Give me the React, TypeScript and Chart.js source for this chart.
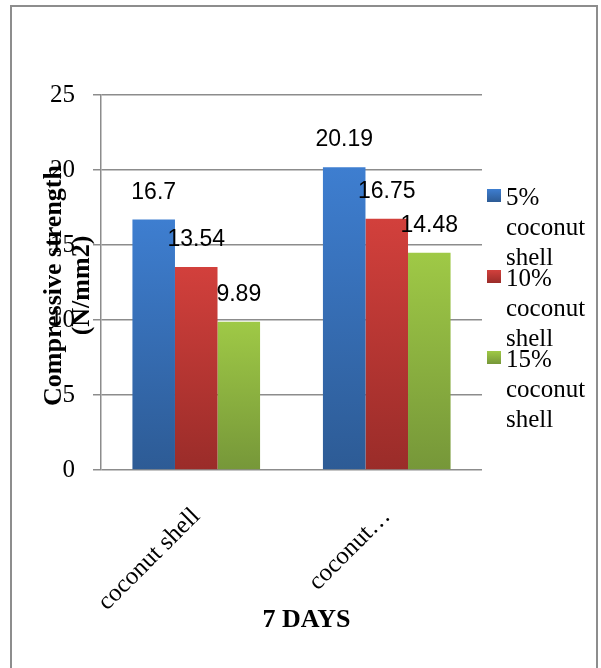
import React, { useEffect, useRef } from "react";
import { Chart, registerables } from "chart.js";

Chart.register(...registerables);

const categories = ["coconut shell", "coconut…"];
const seriesNames = ["5% coconut shell", "10% coconut shell", "15% coconut shell"];
const series5 = [16.7, 20.19];
const series10 = [13.54, 16.75];
const series15 = [9.89, 14.48];
const yTicks = [0, 5, 10, 15, 20, 25];
const yTitle = ["Compressive strength", "(N/mm2)"];
const xTitle = "7 DAYS";

const gradTop = ["#3e7ed0", "#d2403c", "#9fc946"];
const gradBottom = ["#2d5b95", "#9a2c29", "#769739"];

const SERIF = "'Liberation Serif', 'Times New Roman', serif";
const SANS = "'Liberation Sans', Arial, sans-serif";
const GRID = "#8c8c8c";

function barGradient(ctx: any, i: number) {
  const chart = ctx.chart;
  const y = chart.scales && chart.scales.y;
  if (!y || typeof ctx.raw !== "number") return gradTop[i];
  const top = y.getPixelForValue(ctx.raw);
  const bottom = y.getPixelForValue(0);
  if (!isFinite(top) || !isFinite(bottom) || top === bottom) return gradTop[i];
  const g = chart.ctx.createLinearGradient(0, top, 0, bottom);
  g.addColorStop(0, gradTop[i]);
  g.addColorStop(1, gradBottom[i]);
  return g;
}

const overlayPlugin = {
  id: "overlay",
  afterDatasetsDraw(chart: any) {
    const ctx = chart.ctx;
    ctx.save();
    ctx.fillStyle = "#000";
    ctx.font = `23px ${SANS}`;
    ctx.textAlign = "center";
    ctx.textBaseline = "middle";
    chart.data.datasets.forEach((ds: any, di: number) => {
      const meta = chart.getDatasetMeta(di);
      meta.data.forEach((bar: any, i: number) => {
        ctx.fillText(String(ds.data[i]), bar.x, bar.y - 27);
      });
    });
    ctx.restore();
  },
  afterDraw(chart: any) {
    const ctx = chart.ctx;
    const area = chart.chartArea;
    ctx.save();
    ctx.fillStyle = "#000";
    // y title
    ctx.font = `bold 26px ${SERIF}`;
    ctx.textAlign = "center";
    ctx.textBaseline = "middle";
    const cy = (area.top + area.bottom) / 2 + 3;
    yTitle.forEach((line, k) => {
      ctx.save();
      ctx.translate(area.left - 47 + k * 28, cy);
      ctx.rotate(-Math.PI / 2);
      ctx.fillText(line, 0, 0);
      ctx.restore();
    });
    // x title
    ctx.fillText(xTitle, (area.left + area.right) / 2 + 15, area.bottom + 150);
    // legend
    ctx.font = `25px ${SERIF}`;
    ctx.textAlign = "left";
    ctx.textBaseline = "alphabetic";
    chart.data.datasets.forEach((ds: any, di: number) => {
      const base = area.top + 110 + di * 81;
      const g = ctx.createLinearGradient(0, base - 16, 0, base - 3);
      g.addColorStop(0, gradTop[di]);
      g.addColorStop(1, gradBottom[di]);
      ctx.fillStyle = g;
      ctx.fillRect(area.right + 5, base - 16, 14, 13);
      ctx.fillStyle = "#000";
      const words = String(ds.label).split(" ");
      words.forEach((w, k) => {
        ctx.fillText(w, area.right + 24, base + k * 30);
      });
    });
    ctx.restore();
  },
};

export default function App() {
  const ref = useRef<HTMLCanvasElement | null>(null);
  useEffect(() => {
    if (!ref.current) return;
    const values = [series5, series10, series15];
    const chart = new Chart(ref.current, {
      type: "bar",
      data: {
        labels: categories,
        datasets: seriesNames.map((name, i) => ({
          label: name,
          data: values[i],
          backgroundColor: (c: any) => barGradient(c, i),
          borderWidth: 0,
          barPercentage: 1,
          categoryPercentage: 0.67,
        })),
      },
      options: {
        responsive: false,
        animation: false,
        devicePixelRatio: 1,
        layout: { padding: { left: 0, top: 95, right: 119, bottom: 0 } },
        plugins: {
          legend: { display: false },
          tooltip: { enabled: false },
          title: { display: false },
        },
        scales: {
          x: {
            afterFit: (s: any) => {
              s.height = 198;
            },
            grid: { display: false, drawTicks: false },
            border: { display: false },
            ticks: {
              color: "#000",
              font: { family: SERIF, size: 25 },
              minRotation: 45,
              maxRotation: 45,
              autoSkip: false,
              padding: 32,
            },
          },
          y: {
            min: 0,
            max: 25,
            afterFit: (s: any) => {
              s.width = 101;
            },
            afterBuildTicks: (s: any) => {
              s.ticks = yTicks.map((v) => ({ value: v }));
            },
            grid: { color: GRID, lineWidth: 1.5, tickLength: 8, drawTicks: true },
            border: { display: true, color: GRID, width: 1.5 },
            ticks: {
              color: "#000",
              font: { family: SERIF, size: 25 },
              padding: 18,
            },
          },
        },
      },
      plugins: [overlayPlugin],
    });
    return () => chart.destroy();
  }, []);

  return (
    <div style={{ position: "absolute", left: 0, top: 0, width: 601, height: 668, overflow: "hidden", background: "#fff" }}>
      <div
        style={{
          position: "absolute",
          left: 10,
          top: 5,
          width: 584,
          height: 700,
          border: "2px solid #8d8d8d",
        }}
      />
      <canvas ref={ref} width={601} height={668} style={{ position: "absolute", left: 0, top: 0 }} />
    </div>
  );
}
